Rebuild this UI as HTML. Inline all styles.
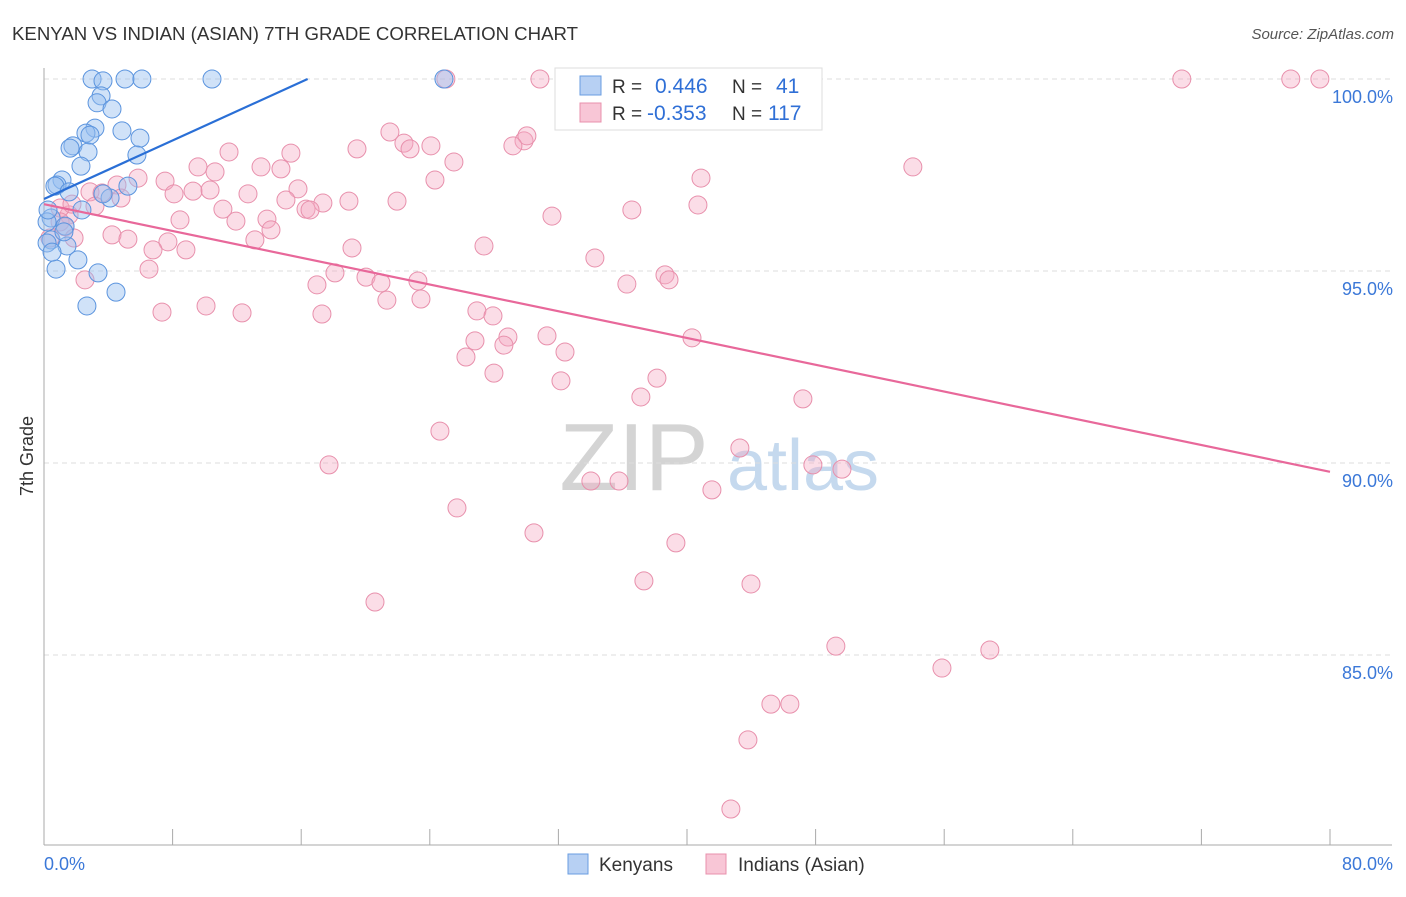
<!DOCTYPE html>
<html><head><meta charset="utf-8">
<style>
body{margin:0;background:#fff;font-family:"Liberation Sans",sans-serif;}
svg text{font-family:"Liberation Sans",sans-serif;}
</style></head>
<body>
<svg id="chart" width="1406" height="892" xmlns="http://www.w3.org/2000/svg">
<text x="12" y="40" font-size="18" fill="#333" textLength="566" lengthAdjust="spacingAndGlyphs">KENYAN VS INDIAN (ASIAN) 7TH GRADE CORRELATION CHART</text>
<text x="1394" y="39" font-size="15" fill="#555" text-anchor="end" font-style="italic">Source: ZipAtlas.com</text>
<text x="33" y="456" font-size="18" fill="#333" text-anchor="middle" transform="rotate(-90 33 456)">7th Grade</text>
<g>
<text x="634" y="490" font-size="96" fill="#d4d4d4" font-family="Liberation Serif" text-anchor="middle">ZIP</text>
<text x="803" y="490" font-size="72" fill="#c5d9ee" text-anchor="middle">atlas</text>
</g>
<g id="grid"></g><g id="axes"></g><g id="pts"></g><g id="lines"></g>
<g>
<rect x="555" y="68" width="267" height="62" fill="#fff" stroke="#ddd"/>
<rect x="580" y="76" width="21" height="19" fill="#b7d0f3" stroke="#6a9de0"/>
<rect x="580" y="103" width="21" height="19" fill="#f8c6d6" stroke="#e890ac"/>
<text x="612" y="93" font-size="19" fill="#333">R = <tspan fill="#2f6fd6" x="655" font-size="21">0.446</tspan><tspan x="732" fill="#333">N = </tspan><tspan fill="#2f6fd6" x="776" font-size="21">41</tspan></text>
<text x="612" y="120" font-size="19" fill="#333">R = <tspan fill="#2f6fd6" x="647" font-size="21">-0.353</tspan><tspan x="732" fill="#333">N = </tspan><tspan fill="#2f6fd6" x="768" font-size="21">117</tspan></text>
</g>
<g>
<rect x="568" y="854" width="20" height="20" fill="#b7d0f3" stroke="#6a9de0"/>
<text x="599" y="871" font-size="19" fill="#333">Kenyans</text>
<rect x="706" y="854" width="20" height="20" fill="#f8c6d6" stroke="#e890ac"/>
<text x="738" y="871" font-size="19" fill="#333">Indians (Asian)</text>
</g>
</svg>
<script>
const blueX=[2.99,3.67,5.04,6.09,10.45,24.88,3.55,3.30,4.23,4.85,5.97,3.17,2.61,2.86,1.80,1.62,2.74,5.78,2.30,1.12,0.81,0.68,1.56,4.11,5.22,3.67,2.36,0.44,0.19,1.31,0.44,0.19,1.43,2.11,0.75,3.36,4.48,2.67,0.50,1.24,0.25];
const blueY=[100,99.95,100,100,100,100,99.56,99.38,99.22,98.65,98.46,98.72,98.59,98.54,98.26,98.20,98.10,98.02,97.73,97.37,97.24,97.21,97.06,96.90,97.21,97.01,96.59,96.38,96.28,96.17,95.81,95.73,95.65,95.29,95.05,94.95,94.45,94.09,95.49,96.02,96.59];
const pinkX=[25.0,30.85,46.84,70.78,77.56,79.37,21.52,22.39,22.77,24.07,19.47,29.86,30.04,29.17,11.51,15.36,25.50,9.58,10.64,13.50,14.74,24.32,5.85,4.54,7.53,40.87,54.05,15.80,9.27,10.33,12.69,8.09,2.86,3.61,4.79,15.05,18.97,21.96,17.35,16.30,11.13,16.55,40.68,36.57,31.60,13.87,11.94,8.46,14.12,1.56,1.00,1.00,1.31,4.23,5.22,13.12,7.71,6.78,8.83,19.16,27.37,34.27,6.53,18.10,20.03,20.96,23.26,16.98,38.63,38.88,36.26,2.55,21.33,23.45,10.08,12.32,7.34,17.29,26.93,27.93,31.29,28.86,28.61,26.81,26.25,32.41,40.31,27.99,32.16,38.13,37.13,47.21,24.63,43.29,17.73,47.83,49.64,34.02,35.77,41.55,25.69,30.48,39.31,37.32,43.98,20.59,49.26,58.84,55.86,45.22,46.40,43.79,42.73,1.87,3.17,1.74,0.37];
const pinkY=[100,100,100,100,100,100,98.62,98.33,98.18,98.26,98.18,98.39,98.52,98.26,98.10,98.07,97.84,97.71,97.58,97.71,97.66,97.37,97.42,97.24,97.34,97.42,97.71,97.14,97.08,97.11,97.01,97.01,97.06,97.03,96.90,96.85,96.82,96.82,96.77,96.61,96.61,96.59,96.72,96.59,96.43,96.35,96.30,96.33,96.07,96.46,96.64,96.28,96.15,95.94,95.83,95.81,95.76,95.55,95.55,95.60,95.65,95.34,95.05,94.95,94.84,94.69,94.74,94.64,94.90,94.77,94.66,94.77,94.24,94.27,94.09,93.91,93.93,93.88,93.96,93.83,93.31,93.28,93.07,93.18,92.76,92.89,93.26,92.34,92.14,92.21,91.72,91.67,90.83,90.39,89.95,89.95,89.84,89.53,89.53,89.30,88.83,88.18,87.92,86.93,86.85,86.38,85.23,85.13,84.66,83.72,83.72,82.79,80.99,95.86,96.69,96.74,95.86];
const blueLine=[[0,96.875],[16.4,100]];
const pinkLine=[[0,96.74],[80,89.77]];
const yTicks=[100,95,90,85];
const yTickLabels=["100.0%","95.0%","90.0%","85.0%"];
const xTicks=[0,8,16,24,32,40,48,56,64,72,80];

const NS="http://www.w3.org/2000/svg";
const sx=v=>44+v*(1286/80);
const sy=v=>79+(100-v)*38.4;
function mk(tag,attrs,parent){const e=document.createElementNS(NS,tag);for(const k in attrs)e.setAttribute(k,attrs[k]);document.getElementById(parent).appendChild(e);return e;}
yTicks.forEach((t,i)=>{
  const l=mk('line',{x1:44,x2:1392,y1:sy(t),y2:sy(t),stroke:'#ddd','stroke-dasharray':'5,4'},'grid');
  
  
  const tx=mk('text',{x:1393,y:sy(t)+24,'font-size':18,fill:'#3b78d8','text-anchor':'end'},'grid');
  tx.textContent=yTickLabels[i];
  
  
});
const ax=mk('line',{x1:44,x2:44,y1:68,y2:845,stroke:'#aaa'},'axes');


const bx=mk('line',{x1:44,x2:1392,y1:845,y2:845,stroke:'#aaa'},'axes');


xTicks.forEach(t=>{
  const l=mk('line',{x1:sx(t),x2:sx(t),y1:829,y2:845,stroke:'#aaa'},'axes');
  
  
});
const x0=mk('text',{x:44,y:870,'font-size':18,fill:'#3b78d8'},'axes');x0.textContent='0.0%';


const x1=mk('text',{x:1393,y:870,'font-size':18,fill:'#3b78d8','text-anchor':'end'},'axes');x1.textContent='80.0%';


pinkX.forEach((x,i)=>{
  const c=mk('circle',{cx:sx(x),cy:sy(pinkY[i]),r:9,fill:'rgba(244,170,195,0.4)',stroke:'#e890ac','stroke-width':1},'pts');
  
  
});
blueX.forEach((x,i)=>{
  const c=mk('circle',{cx:sx(x),cy:sy(blueY[i]),r:9,fill:'rgba(150,190,240,0.45)',stroke:'#5b94de','stroke-width':1},'pts');
  
  
});
const bl=mk('line',{x1:sx(blueLine[0][0]),y1:sy(blueLine[0][1]),x2:sx(blueLine[1][0]),y2:sy(blueLine[1][1]),stroke:'#2a6fd6','stroke-width':2.2},'lines');


const pl=mk('line',{x1:sx(pinkLine[0][0]),y1:sy(pinkLine[0][1]),x2:sx(pinkLine[1][0]),y2:sy(pinkLine[1][1]),stroke:'#e8689a','stroke-width':2.2},'lines');


</script>
</body></html>
